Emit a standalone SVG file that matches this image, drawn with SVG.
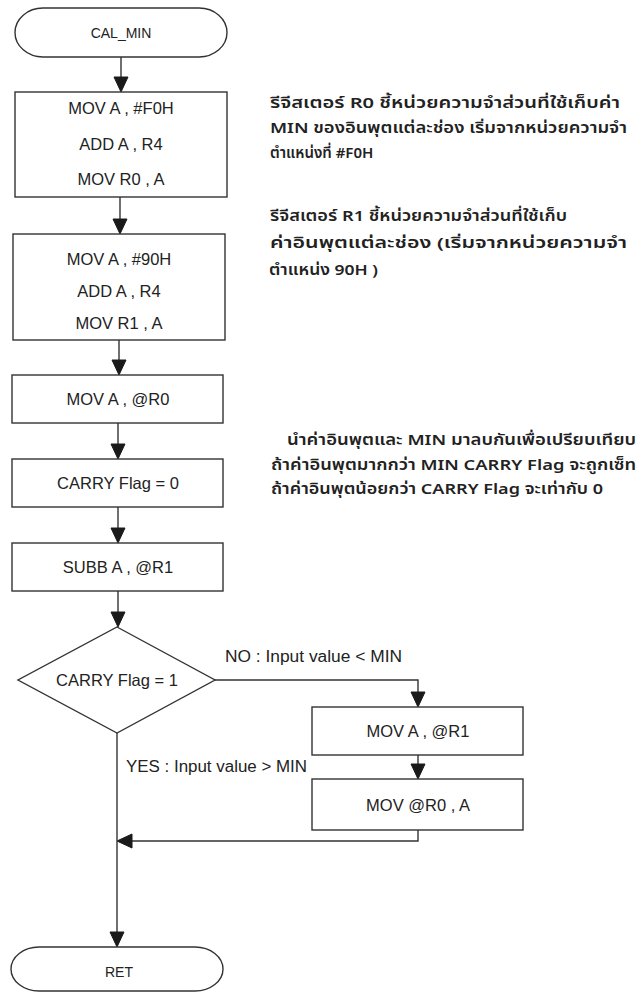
<svg xmlns="http://www.w3.org/2000/svg" width="643" height="993" viewBox="0 0 643 993">
  <style>
    .shape { fill: #ffffff; stroke: #333; stroke-width: 1.4; }
    .conn { fill: none; stroke: #333; stroke-width: 1.4; }
    .ah { fill: #1a1a1a; stroke: #1a1a1a; stroke-width: 1; }
    .t { font-family: "Liberation Sans", Arial, sans-serif; font-size: 16.5px; fill: #222; text-anchor: middle; }
    .ts { font-family: "Liberation Sans", Arial, sans-serif; font-size: 14px; fill: #222; text-anchor: middle; }
    .lbl { font-family: "Liberation Sans", Arial, sans-serif; font-size: 16px; fill: #222; }
    .th { font-family: "Noto Sans Thai", "Noto Sans Thai UI", "Loma", "Garuda", "Tlwg Typo", "Noto Sans", sans-serif; font-size: 15px; font-weight: 600; fill: #222; }
  </style>
  <rect width="643" height="993" fill="#ffffff"/>

  <g id="connectors">
    <path class="conn" d="M121,57 V88"/>
    <polygon class="ah" points="121,92 114,77 128,77"/>
    <path class="conn" d="M120,197 V230"/>
    <polygon class="ah" points="120,234 113,219 127,219"/>
    <path class="conn" d="M119,340 V371"/>
    <polygon class="ah" points="119,375 112,360 126,360"/>
    <path class="conn" d="M118,423 V455"/>
    <polygon class="ah" points="118,459 111,444 125,444"/>
    <path class="conn" d="M118,507 V539"/>
    <polygon class="ah" points="118,543 111,528 125,528"/>
    <path class="conn" d="M118,591 V623"/>
    <polygon class="ah" points="118,627 111,612 125,612"/>
    <path class="conn" d="M215,680 H418 V703"/>
    <polygon class="ah" points="418,707 411,692 425,692"/>
    <path class="conn" d="M418,755 V775"/>
    <polygon class="ah" points="418,779 411,764 425,764"/>
    <path class="conn" d="M418,830 V841 H121"/>
    <polygon class="ah" points="117,841 132,834 132,848"/>
    <path class="conn" d="M117,733 V943"/>
    <polygon class="ah" points="117,947 110,932 124,932"/>
    <text class="lbl" x="225" y="662" textLength="177" lengthAdjust="spacingAndGlyphs">NO : Input value &lt; MIN</text>
    <text class="lbl" x="126" y="772" textLength="181" lengthAdjust="spacingAndGlyphs">YES : Input value &gt; MIN</text>
  </g>

  <g id="start">
    <rect class="shape" x="15" y="8" width="212" height="49" rx="28" ry="24.5"/>
    <text class="ts" x="121" y="38">CAL_MIN</text>
  </g>

  <g id="box1">
    <rect class="shape" x="15" y="92" width="212" height="105"/>
    <text class="t" x="121" y="114">MOV A , #F0H</text>
    <text class="t" x="121" y="150">ADD A , R4</text>
    <text class="t" x="121" y="185">MOV R0 , A</text>
  </g>

  <g id="box2">
    <rect class="shape" x="13" y="234" width="212" height="106"/>
    <text class="t" x="119" y="265">MOV A , #90H</text>
    <text class="t" x="119" y="297">ADD A , R4</text>
    <text class="t" x="119" y="329">MOV R1 , A</text>
  </g>

  <g id="box3">
    <rect class="shape" x="12" y="375" width="211" height="48"/>
    <text class="t" x="118" y="405">MOV A , @R0</text>
  </g>

  <g id="box4">
    <rect class="shape" x="12" y="459" width="211" height="48"/>
    <text class="t" x="118" y="489">CARRY Flag = 0</text>
  </g>

  <g id="box5">
    <rect class="shape" x="12" y="543" width="211" height="48"/>
    <text class="t" x="118" y="573">SUBB A , @R1</text>
  </g>

  <g id="decision">
    <polygon class="shape" points="117,627 215,680 117,733 18,680"/>
    <text class="t" x="117" y="686">CARRY Flag = 1</text>
  </g>

  <g id="box6">
    <rect class="shape" x="312" y="707" width="211" height="48"/>
    <text class="t" x="418" y="737">MOV A , @R1</text>
  </g>

  <g id="box7">
    <rect class="shape" x="312" y="779" width="211" height="51"/>
    <text class="t" x="418" y="811">MOV @R0 , A</text>
  </g>

  <g id="end">
    <rect class="shape" x="11" y="947" width="212" height="44" rx="28" ry="22"/>
    <text class="ts" x="119" y="977">RET</text>
  </g>

  <g id="note1">
    <text class="th" x="270" y="108" textLength="350" lengthAdjust="spacingAndGlyphs">รีจีสเตอร์ R0 ชี้หน่วยความจำส่วนที่ใช้เก็บค่า</text>
    <text class="th" x="270" y="133" textLength="357" lengthAdjust="spacingAndGlyphs">MIN ของอินพุตแต่ละช่อง เริ่มจากหน่วยความจำ</text>
    <text class="th" x="270" y="158">ตำแหน่งที่ #F0H</text>
  </g>

  <g id="note2">
    <text class="th" x="270" y="221" textLength="297" lengthAdjust="spacingAndGlyphs">รีจีสเตอร์ R1 ชี้หน่วยความจำส่วนที่ใช้เก็บ</text>
    <text class="th" x="270" y="248" textLength="357" lengthAdjust="spacingAndGlyphs">ค่าอินพุตแต่ละช่อง (เริ่มจากหน่วยความจำ</text>
    <text class="th" x="269" y="275" textLength="109" lengthAdjust="spacingAndGlyphs">ตำแหน่ง 90H )</text>
  </g>

  <g id="note3">
    <text class="th" x="287" y="445" textLength="349" lengthAdjust="spacingAndGlyphs">นำค่าอินพุตและ MIN มาลบกันเพื่อเปรียบเทียบ</text>
    <text class="th" x="271" y="470" textLength="365" lengthAdjust="spacingAndGlyphs">ถ้าค่าอินพุตมากกว่า MIN CARRY Flag จะถูกเซ็ท</text>
    <text class="th" x="271" y="494" textLength="332" lengthAdjust="spacingAndGlyphs">ถ้าค่าอินพุตน้อยกว่า CARRY Flag จะเท่ากับ 0</text>
  </g>
</svg>
